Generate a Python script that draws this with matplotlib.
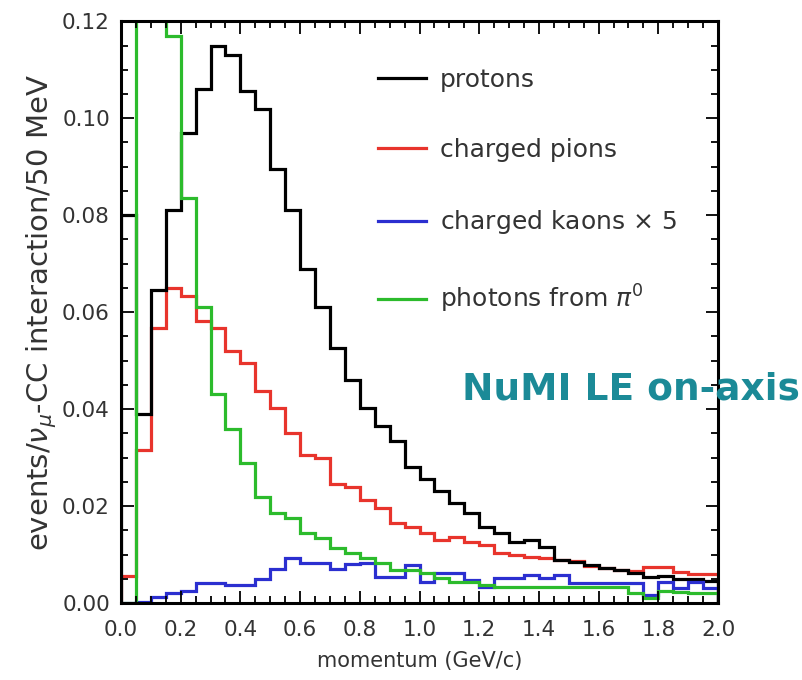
import numpy as np
import matplotlib.pyplot as plt
from matplotlib.lines import Line2D

plt.rcParams['font.family'] = ['DejaVu Sans']

# momentum bins, 50 MeV wide, 0 - 2 GeV/c
bin_width = 0.05
edges = np.arange(41) * bin_width

protons = [0.080, 0.039, 0.0645, 0.081, 0.097, 0.106, 0.115, 0.113, 0.1056, 0.102,
           0.0895, 0.081, 0.069, 0.061, 0.0527, 0.046, 0.0403, 0.0366, 0.0335, 0.028,
           0.0255, 0.0232, 0.0206, 0.0185, 0.0156, 0.0144, 0.0125, 0.013, 0.0115, 0.0089,
           0.0085, 0.0078, 0.0072, 0.0068, 0.0062, 0.0054, 0.0055, 0.005, 0.005, 0.0045]

pions = [0.0055, 0.0315, 0.0568, 0.065, 0.0634, 0.0582, 0.0568, 0.052, 0.0496, 0.0438,
         0.0403, 0.035, 0.0305, 0.030, 0.0245, 0.024, 0.0212, 0.0195, 0.0165, 0.0157,
         0.0144, 0.013, 0.0136, 0.0126, 0.012, 0.0103, 0.010, 0.0095, 0.0092, 0.0089,
         0.0087, 0.0076, 0.0073, 0.0068, 0.0066, 0.0075, 0.0074, 0.0064, 0.006, 0.006]

kaons_x5 = [0.0, 0.0003, 0.0012, 0.002, 0.0025, 0.0041, 0.0041, 0.0037, 0.0037, 0.0049,
            0.007, 0.0092, 0.0082, 0.0082, 0.007, 0.008, 0.0082, 0.0054, 0.0054, 0.0078,
            0.0043, 0.0062, 0.0062, 0.0047, 0.0033, 0.0051, 0.0051, 0.0058, 0.0051, 0.0058,
            0.0041, 0.0041, 0.0041, 0.0041, 0.0041, 0.0016, 0.0043, 0.003, 0.0043, 0.003]

photons = [0.0, 0.16, 0.15, 0.117, 0.0835, 0.061, 0.0432, 0.036, 0.0288, 0.0218,
           0.0185, 0.0175, 0.0145, 0.0134, 0.0113, 0.0103, 0.0093, 0.0082, 0.0068, 0.0068,
           0.0062, 0.0051, 0.0043, 0.0043, 0.0037, 0.0034, 0.0034, 0.0033, 0.0033, 0.0033,
           0.0033, 0.0033, 0.0033, 0.0033, 0.002, 0.001, 0.0025, 0.0022, 0.002, 0.002]

labels = ['protons', 'charged pions', 'charged kaons $\\times$ 5', 'photons from $\\pi^0$']
colors = ['black', '#e8342c', '#2b2fd0', '#2cbb2c']

fig = plt.figure(figsize=(8.03, 6.8), dpi=100)
ax = fig.add_axes([0.1507, 0.1132, 0.7435, 0.8555])

lw = 2.3
ax.stairs(pions, edges, color=colors[1], lw=lw)
ax.stairs(protons, edges, color=colors[0], lw=lw)
ax.stairs(kaons_x5, edges, color=colors[2], lw=lw)
ax.stairs(photons, edges, color=colors[3], lw=lw)

ax.set_xlim(0, 2.0)
ax.set_ylim(0, 0.12)
ax.set_xticks(np.arange(0, 2.01, 0.2))
ax.set_xticks(np.arange(0, 2.01, 0.05), minor=True)
ax.set_yticks(np.arange(0, 0.121, 0.02))
ax.set_yticks(np.arange(0, 0.121, 0.005), minor=True)
ax.xaxis.set_major_formatter(plt.FormatStrFormatter('%.1f'))
ax.yaxis.set_major_formatter(plt.FormatStrFormatter('%.2f'))
ax.tick_params(which='both', direction='in', top=True, right=True,
               labelsize=15.5, labelcolor='#333333', width=1.3)
ax.tick_params(which='major', length=9)
ax.tick_params(which='minor', length=5)
ax.tick_params(axis='x', which='major', pad=12)
ax.tick_params(axis='y', which='major', pad=8)
for s in ax.spines.values():
    s.set_linewidth(2.2)

ax.set_xlabel('momentum (GeV/c)', fontsize=15, color='#333333', labelpad=8)
ax.set_ylabel('events/$\\nu_{\\mu}$-CC interaction/50 MeV', fontsize=21,
              color='#333333', labelpad=2)

handles = [Line2D([], [], color=c, lw=lw) for c in colors]
ax.legend(handles, labels, loc='upper left', bbox_to_anchor=(0.43, 0.92),
          frameon=False, fontsize=18, handlelength=1.95, handletextpad=0.55,
          labelspacing=1.85, borderpad=0, borderaxespad=0, labelcolor='#333333')

ax.text(0.571, 0.367, 'NuMI LE on-axis', transform=ax.transAxes, fontsize=27,
        fontweight='bold', color='#1b8a97', va='center', ha='left', clip_on=False)

fig.savefig('out.png', dpi=100)
